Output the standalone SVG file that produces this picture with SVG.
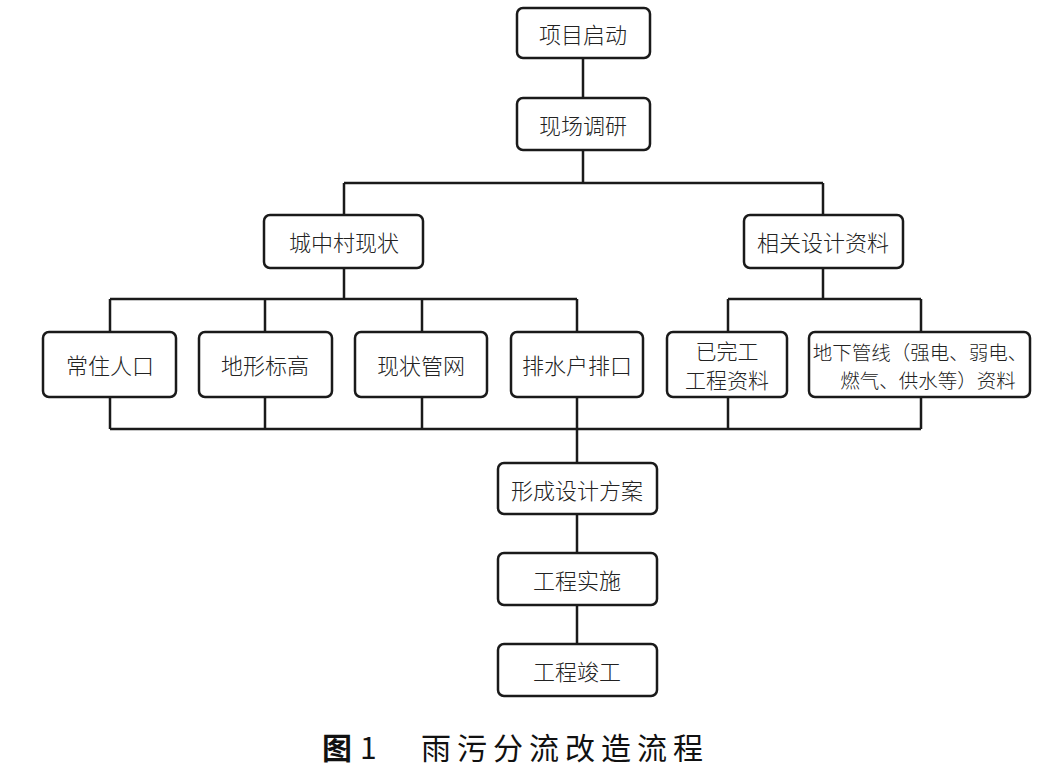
<svg xmlns="http://www.w3.org/2000/svg" width="1048" height="775" viewBox="0 0 1048 775">
<style>
.box{fill:#fff;stroke:#1a1a1a;stroke-width:2.5}
.ln{fill:none;stroke:#1a1a1a;stroke-width:2.5}
.t{font-family:"Noto Sans CJK SC","Noto Sans",sans-serif;font-size:22px;fill:#222;text-anchor:middle;dominant-baseline:central;font-weight:300}
.tm{font-size:21px}
.ts{font-size:19.5px}
.cap{font-family:"Noto Sans CJK SC","Noto Sans",sans-serif;font-size:30px;fill:#111}
</style>
<rect width="1048" height="775" fill="#fff"/>
<g id="connectors">
<path class="ln" d="M583 58V98M583 150V183M344 183H823M344 183V215M823 183V215"/>
<path class="ln" d="M344 268V299M110 299H577M110 299V332M265 299V332M422 299V332M577 299V332"/>
<path class="ln" d="M823 268V299M728 299H921M728 299V332M921 299V332"/>
<path class="ln" d="M110 397V429M265 397V429M422 397V429M577 397V429M728 397V429M921 397V429M110 429H921"/>
<path class="ln" d="M577 429V463M577 514V553M577 605V644"/>
</g>
<g id="n1"><rect class="box" x="517" y="8" width="133" height="50" rx="6"/><text class="t" x="583" y="33">项目启动</text></g>
<g id="n2"><rect class="box" x="517" y="98" width="133" height="52" rx="6"/><text class="t" x="583" y="124">现场调研</text></g>
<g id="n3"><rect class="box" x="264" y="215" width="159" height="53" rx="6"/><text class="t" x="344" y="241">城中村现状</text></g>
<g id="n4"><rect class="box" x="744" y="215" width="159" height="53" rx="6"/><text class="t" x="823" y="241">相关设计资料</text></g>
<g id="n5"><rect class="box" x="43" y="332" width="133" height="65" rx="6"/><text class="t" x="110" y="364">常住人口</text></g>
<g id="n6"><rect class="box" x="199" y="332" width="133" height="65" rx="6"/><text class="t" x="265" y="364">地形标高</text></g>
<g id="n7"><rect class="box" x="355" y="332" width="132" height="65" rx="6"/><text class="t" x="421" y="364">现状管网</text></g>
<g id="n8"><rect class="box" x="511" y="332" width="132" height="65" rx="6"/><text class="t" x="577" y="364">排水户排口</text></g>
<g id="n9"><rect class="box" x="667" y="332" width="120" height="65" rx="6"/><text class="t tm" x="727" y="350">已完工</text><text class="t tm" x="727" y="379">工程资料</text></g>
<g id="n10"><rect class="box" x="809" y="332" width="221" height="65" rx="6"/><text class="t ts" x="920" y="351">地下管线（强电、弱电、</text><text class="t ts" x="928" y="379">燃气、供水等）资料</text></g>
<g id="n11"><rect class="box" x="498" y="463" width="159" height="51" rx="6"/><text class="t" x="577" y="489">形成设计方案</text></g>
<g id="n12"><rect class="box" x="498" y="553" width="159" height="52" rx="6"/><text class="t" x="577" y="579">工程实施</text></g>
<g id="n13"><rect class="box" x="498" y="644" width="159" height="52" rx="6"/><text class="t" x="577" y="670">工程竣工</text></g>
<g id="caption">
<text class="cap" x="322" y="759" font-weight="700">图</text>
<text class="cap" x="360" y="759" font-family="Liberation Serif,serif">1</text>
<text class="cap" x="421" y="759" letter-spacing="6">雨污分流改造流程</text>
</g>
</svg>
